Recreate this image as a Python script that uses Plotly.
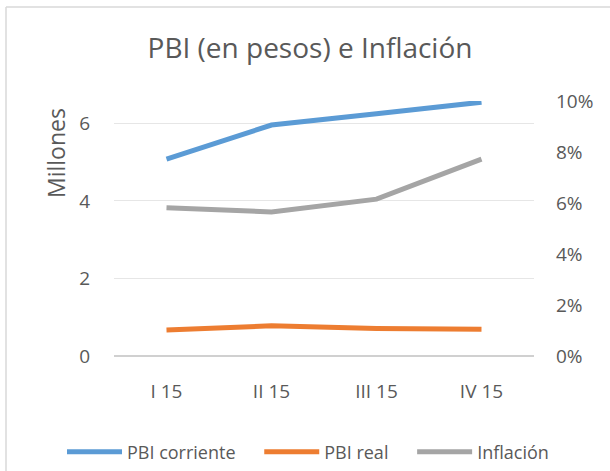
import plotly.graph_objects as go

trimestres = ["I 15", "II 15", "III 15", "IV 15"]
pbi_corriente = [5.08, 5.96, 6.25, 6.55]
pbi_real = [0.67, 0.78, 0.71, 0.69]
inflacion = [0.0581, 0.0565, 0.0615, 0.0772]

fuente = "Open Sans, sans-serif"
gris_texto = "#595959"
pad = "\u00a0" * 4  # extra gap between legend entries

# plot area in pixels: x 114-534, y 101-356
def px(x):
    return (x - 114) / 420

def py(y):
    return (356 - y) / 255

fig = go.Figure()
fig.add_trace(go.Scatter(x=trimestres, y=pbi_corriente, name="PBI corriente" + pad, mode="lines",
                         line=dict(color="#5B9BD5", width=5)))
fig.add_trace(go.Scatter(x=trimestres, y=pbi_real, name="PBI real" + pad, mode="lines",
                         line=dict(color="#ED7D31", width=5)))
fig.add_trace(go.Scatter(x=trimestres, y=inflacion, name="Inflación", mode="lines",
                         line=dict(color="#A5A5A5", width=5), yaxis="y2"))

fig.update_layout(
    width=610, height=471,
    margin=dict(l=114, r=76, t=101, b=115, autoexpand=False),
    paper_bgcolor="white", plot_bgcolor="white",
    font=dict(family=fuente, color=gris_texto, size=19),
    title=dict(text="PBI (en pesos) e Inflación", x=310 / 610, xanchor="center",
               y=1 - 48 / 471, yanchor="middle", font=dict(size=28, color=gris_texto)),
    xaxis=dict(showgrid=False, showline=False, ticks="", tickfont=dict(size=19),
               range=[-0.5, 3.5], ticklabelstandoff=22),
    yaxis=dict(range=[0, 6.58], tickvals=[0, 2, 4, 6], showgrid=True, gridcolor="#E6E6E6",
               gridwidth=1, zeroline=True, zerolinecolor="#D0D0D0", zerolinewidth=2,
               showline=False, ticks="", ticklabelstandoff=23, tickfont=dict(size=19)),
    yaxis2=dict(range=[0, 0.10], overlaying="y", side="right", tickformat=".0%",
                dtick=0.02, showgrid=False, zeroline=False, showline=False, ticks="",
                ticklabelstandoff=21, tickfont=dict(size=19)),
    showlegend=True,
    legend=dict(orientation="h", x=px(62), xanchor="left", y=py(452), yanchor="middle",
                font=dict(size=18), itemwidth=55, tracegroupgap=0),
    annotations=[dict(text="Millones", textangle=-90, xref="paper", yref="paper",
                      x=px(56), y=py(153), xanchor="center", yanchor="middle",
                      showarrow=False, font=dict(size=23, color=gris_texto))],
    shapes=[
        dict(type="line", xref="paper", yref="paper", x0=px(6), x1=px(612),
             y0=py(7), y1=py(7), line=dict(color="#D9D9D9", width=1.5)),
        dict(type="line", xref="paper", yref="paper", x0=px(6), x1=px(6),
             y0=py(7), y1=py(475), line=dict(color="#D9D9D9", width=1.5)),
    ],
)

fig.write_html("out.html", config={"displayModeBar": False},
               post_script="document.body.style.margin='0';")
